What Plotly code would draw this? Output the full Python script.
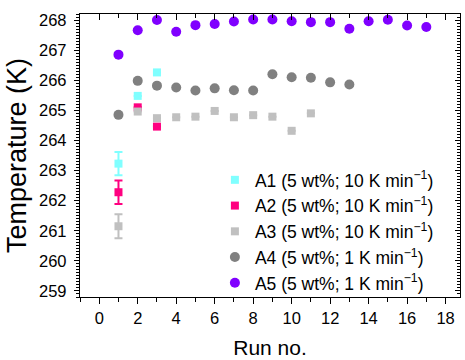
import plotly.graph_objects as go

# Crystallisation temperature per run for each sample
runs_a1 = [1, 2, 3]
temp_a1 = [263.23, 265.48, 266.26]
err_a1 = [0.39, 0, 0]

runs_a2 = [1, 2, 3]
temp_a2 = [262.28, 265.10, 264.46]
err_a2 = [0.39, 0, 0]

runs_a3 = [1, 2, 3, 4, 5, 6, 7, 8, 9, 10, 11]
temp_a3 = [261.15, 264.96, 264.74, 264.77, 264.79, 264.98, 264.77, 264.84, 264.79, 264.32, 264.90]
err_a3 = [0.40, 0, 0, 0, 0, 0, 0, 0, 0, 0, 0]

runs_a4 = [1, 2, 3, 4, 5, 6, 7, 8, 9, 10, 11, 12, 13]
temp_a4 = [264.85, 265.98, 265.82, 265.76, 265.66, 265.73, 265.67, 265.66, 266.20, 266.10, 266.08, 265.93, 265.86]

runs_a5 = [1, 2, 3, 4, 5, 6, 7, 8, 9, 10, 11, 12, 13, 14, 15, 16, 17]
temp_a5 = [266.85, 267.66, 268.00, 267.61, 267.83, 267.87, 267.95, 268.02, 268.02, 267.96,
           267.93, 267.93, 267.71, 267.96, 268.01, 267.82, 267.77]

labels = [
    "A1 (5 wt%; 10 K min<sup>\u22121</sup>)",
    "A2 (5 wt%; 10 K min<sup>\u22121</sup>)",
    "A3 (5 wt%; 10 K min<sup>\u22121</sup>)",
    "A4 (5 wt%; 1 K min<sup>\u22121</sup>)",
    "A5 (5 wt%; 1 K min<sup>\u22121</sup>)",
]

FONT = "Liberation Sans, Arial, sans-serif"
X_RANGE = [-1.0, 18.75]
Y_RANGE = [258.8, 268.2]

fig = go.Figure()


def square_series(x, y, err, color, name):
    fig.add_trace(go.Scatter(
        x=x, y=y, mode="markers", name=name,
        marker=dict(symbol="square", size=8, color=color),
        error_y=dict(type="data", array=err, visible=True, color=color,
                     thickness=2, width=4),
    ))


def circle_series(x, y, color, name):
    fig.add_trace(go.Scatter(
        x=x, y=y, mode="markers", name=name,
        marker=dict(symbol="circle", size=10, color=color),
    ))


square_series(runs_a1, temp_a1, err_a1, "#80FFFF", labels[0])
square_series(runs_a2, temp_a2, err_a2, "#FF0080", labels[1])
square_series(runs_a3, temp_a3, err_a3, "#C0C0C0", labels[2])
circle_series(runs_a4, temp_a4, "#808080", labels[3])
circle_series(runs_a5, temp_a5, "#8000FF", labels[4])

# empty trace that anchors the mirrored top/right tick axes
fig.add_trace(go.Scatter(x=[], y=[], xaxis="x2", yaxis="y2", showlegend=False,
                         hoverinfo="skip"))

axis_line = dict(showline=True, linecolor="black", linewidth=1.3,
                 showgrid=False, zeroline=False)

fig.update_layout(
    width=465, height=360,
    margin=dict(l=80, r=5, t=14, b=63),
    paper_bgcolor="white", plot_bgcolor="white",
    font=dict(family=FONT, color="black"),
    showlegend=True,
    legend=dict(x=0.355, xanchor="left", y=-0.014, yanchor="bottom",
                bgcolor="rgba(0,0,0,0)", font=dict(size=17.5, family=FONT),
                itemsizing="trace"),
    xaxis=dict(
        range=X_RANGE, dtick=2, tick0=0, ticks="outside", ticklen=6,
        tickwidth=1.2, tickcolor="black",
        minor=dict(dtick=1, tick0=0, ticks="outside", ticklen=4, tickwidth=1.2,
                   tickcolor="black"),
        tickfont=dict(size=16.5),
        title=dict(text="Run no.", font=dict(size=21), standoff=14),
        mirror=True, **axis_line,
    ),
    yaxis=dict(
        range=Y_RANGE, dtick=1, tick0=259, ticks="outside", ticklen=5,
        tickwidth=1.2, tickcolor="black",
        minor=dict(dtick=0.1, ticks="outside", ticklen=3, tickwidth=1,
                   tickcolor="black"),
        tickfont=dict(size=16.5), ticklabelstandoff=4,
        title=dict(text="Temperature (K)", font=dict(size=27), standoff=4),
        mirror=True, **axis_line,
    ),
    xaxis2=dict(
        overlaying="x", side="top", anchor="y", range=X_RANGE, dtick=2, tick0=0,
        ticks="inside", ticklen=6, tickwidth=1.2, tickcolor="black",
        minor=dict(dtick=1, tick0=0, ticks="inside", ticklen=4, tickwidth=1.2,
                   tickcolor="black"),
        showticklabels=False, showgrid=False, zeroline=False, showline=False,
    ),
    yaxis2=dict(
        overlaying="y", side="right", anchor="x", range=Y_RANGE, dtick=1, tick0=259,
        ticks="inside", ticklen=5, tickwidth=1.2, tickcolor="black",
        minor=dict(dtick=0.1, ticks="inside", ticklen=3, tickwidth=1,
                   tickcolor="black"),
        showticklabels=False, showgrid=False, zeroline=False, showline=False,
    ),
)

fig.write_html("out.html")
